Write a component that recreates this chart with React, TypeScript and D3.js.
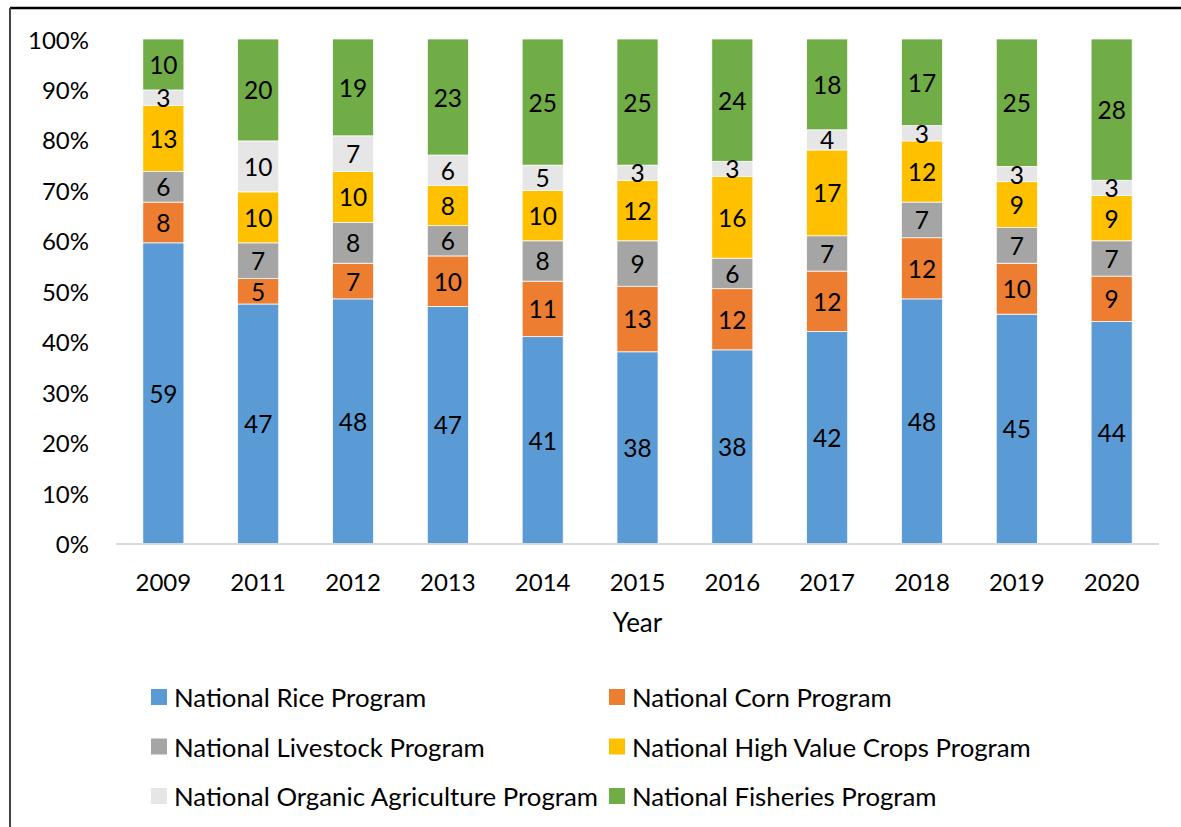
import * as d3 from 'd3';

const years = ['2009', '2011', '2012', '2013', '2014', '2015', '2016', '2017', '2018', '2019', '2020'];
const programs = [
  'National Rice Program',
  'National Corn Program',
  'National Livestock Program',
  'National High Value Crops Program',
  'National Organic Agriculture Program',
  'National Fisheries Program',
];
const rice = [59, 47, 48, 47, 41, 38, 38, 42, 48, 45, 44];
const corn = [8, 5, 7, 10, 11, 13, 12, 12, 12, 10, 9];
const livestock = [6, 7, 8, 6, 8, 9, 6, 7, 7, 7, 7];
const highValue = [13, 10, 10, 8, 10, 12, 16, 17, 12, 9, 9];
const organic = [3, 10, 7, 6, 5, 3, 3, 4, 3, 3, 3];
const fisheries = [10, 20, 19, 23, 25, 25, 24, 18, 17, 25, 28];
const yTicks = [0, 0.1, 0.2, 0.3, 0.4, 0.5, 0.6, 0.7, 0.8, 0.9, 1];
const colors = ['#5B9BD5', '#ED7D31', '#A5A5A5', '#FFC000', '#E7E6E6', '#70AD47'];

const series = [rice, corn, livestock, highValue, organic, fisheries];
const rows = years.map((y, i) => {
  const r: any = { year: y };
  programs.forEach((p, j) => (r[p] = series[j][i]));
  return r;
});

const W = 1181, H = 827;
const font = 'Lato, "Open Sans", sans-serif';

const x = d3.scaleBand().domain(years).range([116, 1159]).paddingInner(0.567).paddingOuter(0.283);
const y = d3.scaleLinear().domain([0, 1]).range([543.5, 39]);

const stacked = d3.stack().keys(programs).offset(d3.stackOffsetExpand)(rows);

export default function App() {
  return (
    <svg width={W} height={H} style={{ position: 'absolute', left: 0, top: 0, background: '#fff' }} fontFamily={font}>
      {/* frame */}
      <line x1={10} x2={W} y1={8} y2={8} stroke="#000" strokeWidth={2.5} />
      <line x1={10} x2={10} y1={8} y2={H} stroke="#444" strokeWidth={2} />

      {/* y tick labels */}
      {yTicks.map((t) => (
        <text key={t} x={89} y={y(t)} textAnchor="end" dominantBaseline="central" fontSize={24} fill="#000">
          {d3.format('.0%')(t)}
        </text>
      ))}

      {/* bars */}
      {stacked.map((s, j) => (
        <g key={s.key} fill={colors[j]}>
          {s.map((d, i) => (
            <rect
              key={i}
              x={x(years[i])}
              y={y(d[1])}
              width={x.bandwidth()}
              height={y(d[0]) - y(d[1])}
              stroke="#fff"
              strokeWidth={0.75}
            />
          ))}
        </g>
      ))}

      {/* data labels */}
      {stacked.map((s, j) => (
        <g key={'l' + s.key}>
          {s.map((d, i) => (
            <text
              key={i}
              x={(x(years[i]) as number) + x.bandwidth() / 2}
              y={y((d[0] + d[1]) / 2)}
              textAnchor="middle"
              dominantBaseline="central"
              fontSize={24.5}
              fill="#000"
            >
              {series[j][i]}
            </text>
          ))}
        </g>
      ))}

      {/* x axis */}
      <line x1={116} x2={1159} y1={544} y2={544} stroke="#D9D9D9" strokeWidth={2} />
      {years.map((yr) => (
        <text key={yr} x={(x(yr) as number) + x.bandwidth() / 2} y={581} textAnchor="middle" dominantBaseline="central" fontSize={24} fill="#000">
          {yr}
        </text>
      ))}
      <text x={637.5} y={622} textAnchor="middle" dominantBaseline="central" fontSize={26} fill="#000">
        Year
      </text>

      {/* legend */}
      {programs.map((p, j) => {
        const col = j % 2;
        const row = Math.floor(j / 2);
        const sx = col === 0 ? 151 : 609;
        const cy = 697 + row * 49.5;
        return (
          <g key={p}>
            <rect x={sx} y={cy - 8} width={16} height={16} fill={colors[j]} />
            <text x={sx + 23} y={cy} dominantBaseline="central" fontSize={25.8} fill="#000">
              {p}
            </text>
          </g>
        );
      })}
    </svg>
  );
}
